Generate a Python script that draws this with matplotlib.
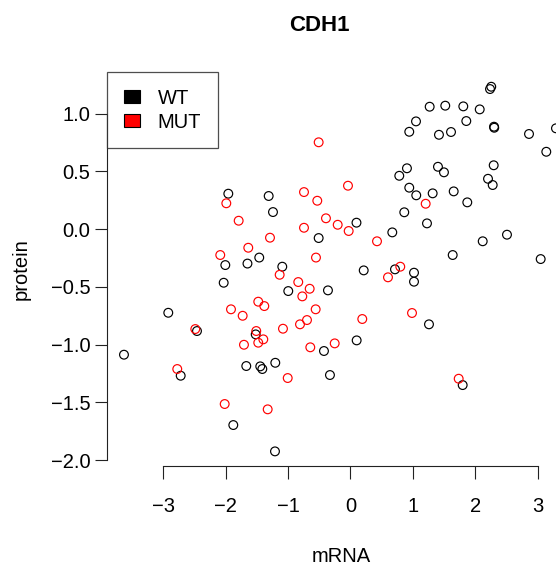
import matplotlib
matplotlib.use("Agg")
import matplotlib.pyplot as plt
from matplotlib.patches import Patch

plt.rcParams['font.family'] = ['Liberation Sans', 'DejaVu Sans']

# WT (black) points: mRNA, protein
wt_mrna = [-1.958, -1.311, -1.242, -0.510, -1.462, -1.651, -2.006, -1.093, -2.032, -0.997,
           -0.361, -2.920, -2.460, -1.519, -3.630, -0.425, -1.205, -1.670, -1.446, -1.413,
           -2.721, -0.329, -1.878, -1.210, 2.256, 2.236, 1.269, 1.519, 1.808, 2.071,
           1.050, 1.856, 2.300, 2.304, 0.942, 1.418, 1.611, 2.861, 3.293, 3.138,
           0.905, 0.782, 1.402, 1.498, 2.295, 2.204, 2.279, 0.942, 1.054, 1.317,
           1.654, 1.872, 0.862, 1.226, 0.096, 0.670, 2.119, 2.508, 1.638, 3.048,
           0.212, 0.713, 1.018, 1.018, 1.258, 0.099, 1.798]
wt_protein = [0.306, 0.286, 0.147, -0.078, -0.247, -0.299, -0.312, -0.326, -0.465, -0.537,
              -0.531, -0.725, -0.883, -0.912, -1.088, -1.056, -1.158, -1.186, -1.189, -1.212,
              -1.270, -1.264, -1.697, -1.925, 1.232, 1.212, 1.059, 1.068, 1.062, 1.036,
              0.932, 0.935, 0.886, 0.877, 0.842, 0.816, 0.840, 0.823, 0.872, 0.669,
              0.526, 0.461, 0.539, 0.491, 0.552, 0.435, 0.381, 0.358, 0.292, 0.309,
              0.326, 0.231, 0.145, 0.049, 0.055, -0.029, -0.106, -0.049, -0.225, -0.260,
              -0.358, -0.349, -0.378, -0.456, -0.825, -0.964, -1.351]

# MUT (red) points
mut_mrna = [-0.510, -1.990, -0.745, -0.532, -0.393, -1.792, -0.745, -1.290, -1.638, -2.087,
            -0.553, -1.135, -0.837, -0.654, -0.772, -1.478, -1.381, -1.915, -1.728, -0.558,
            -0.697, -0.809, -1.082, -2.487, -1.510, -1.397, -1.478, -1.707, -0.644, -2.776,
            -1.006, -2.016, -1.327, -0.040, -0.205, -0.029, 0.425, 1.205, 0.798, 0.601,
            0.189, 0.986, -0.253, 1.734]
mut_protein = [0.751, 0.223, 0.320, 0.245, 0.093, 0.072, 0.011, -0.075, -0.162, -0.225,
               -0.247, -0.396, -0.459, -0.517, -0.583, -0.629, -0.667, -0.695, -0.751, -0.695,
               -0.788, -0.825, -0.863, -0.866, -0.883, -0.955, -0.984, -1.002, -1.024, -1.212,
               -1.290, -1.515, -1.561, 0.375, 0.037, -0.017, -0.106, 0.219, -0.326, -0.418,
               -0.779, -0.727, -0.990, -1.296]

x_ticks = [-3, -2, -1, 0, 1, 2, 3]
y_ticks = [-2.0, -1.5, -1.0, -0.5, 0.0, 0.5, 1.0]
group_labels = ['WT', 'MUT']
group_colors = ['black', 'red']

W, H = 556, 564
FS = 14.5
fig = plt.figure(figsize=(W / 100, H / 100), dpi=100)
left_px, right_px, top_px, bottom_px = 107, 573, 72.3, 465.7
ax = fig.add_axes([left_px / W, 1 - bottom_px / H, (right_px - left_px) / W, (bottom_px - top_px) / H])

ax.scatter(wt_mrna, wt_protein, s=6.3 ** 2, facecolors='none', edgecolors=group_colors[0], linewidths=0.85)
ax.scatter(mut_mrna, mut_protein, s=6.3 ** 2, facecolors='none', edgecolors=group_colors[1], linewidths=0.85)

ax.set_xlim(-3.902, 3.566)
ax.set_ylim(-2.049, 1.357)

for s in ['top', 'right']:
    ax.spines[s].set_visible(False)
ax.spines['left'].set_bounds(-2, 1)
ax.spines['bottom'].set_bounds(-3, 3)
for s in ['left', 'bottom']:
    ax.spines[s].set_linewidth(0.8)
    ax.spines[s].set_color('#222222')

ax.set_xticks(x_ticks)
ax.set_xticklabels([str(t).replace('-', '\u2212') for t in x_ticks])
ax.set_yticks(y_ticks)
ax.set_yticklabels([('%.1f' % t).replace('-', '\u2212') for t in y_ticks])
ax.tick_params(axis='both', direction='out', length=9, width=0.8, color='#222222', labelsize=FS)
ax.tick_params(axis='x', pad=13.5)
ax.tick_params(axis='y', pad=3)

handles = [Patch(facecolor=c, edgecolor='black', linewidth=0.8) for c in group_colors]
leg = ax.legend(handles, group_labels, loc='upper left', bbox_to_anchor=(0, 1), borderaxespad=0,
                fancybox=False, frameon=True, edgecolor='#222222', fontsize=FS,
                handlelength=0.8, handleheight=0.65, handletextpad=0.9, labelspacing=0.25,
                borderpad=0.82)
leg.get_frame().set_linewidth(0.9)

fig.text(319 / W, 1 - 30.7 / H, 'CDH1', ha='center', va='baseline', fontsize=16, fontweight='bold')
fig.text(341.5 / W, 1 - 561.5 / H, 'mRNA', ha='center', va='baseline', fontsize=FS)
fig.text(21 / W, 1 - 269 / H, 'protein', ha='center', va='center', rotation=90, fontsize=FS)

fig.savefig('out.png', dpi=100)
